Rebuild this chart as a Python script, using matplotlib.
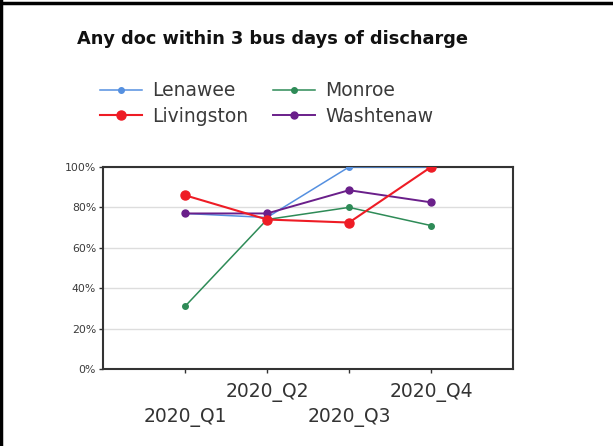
import matplotlib.pyplot as plt
from matplotlib.lines import Line2D

quarters = ["2020_Q1", "2020_Q2", "2020_Q3", "2020_Q4"]
lenawee = [77, 75, 100, 100]
livingston = [86, 74, 72.5, 100]
monroe = [31, 74, 80, 71]
washtenaw = [77, 77, 88.5, 82.5]
yticks = [0, 20, 40, 60, 80, 100]

plt.rcParams['font.family'] = 'DejaVu Sans'

fig = plt.figure(figsize=(6.13, 4.46), dpi=100)
ax = fig.add_axes([0.168, 0.1726, 0.669, 0.453])

x = [1, 2, 3, 4]
ax.plot(x, lenawee, color='#5590e0', lw=1.1, marker='o', ms=4, label='Lenawee', zorder=3)
ax.plot(x, monroe, color='#2e8b57', lw=1.1, marker='o', ms=4, label='Monroe', zorder=3)
ax.plot(x, washtenaw, color='#6a1f8a', lw=1.4, marker='o', ms=5, label='Washtenaw', zorder=4)
ax.plot(x, livingston, color='#ee1c25', lw=1.5, marker='o', ms=6.5, label='Livingston', zorder=5)

ax.set_xlim(0, 5)
ax.set_ylim(0, 100)
ax.set_yticks(yticks)
ax.set_yticklabels([f"{v}%" for v in yticks], fontsize=7.8, color='#3a3a3a')
ax.yaxis.grid(True, color='#dddddd', lw=1)
ax.set_axisbelow(True)
ax.tick_params(axis='y', length=3, width=1, color='#333333', pad=2)

ax.set_xticks(x)
ax.set_xticklabels(quarters, fontsize=13.5, color='#333333')
ax.tick_params(axis='x', length=3, width=1, color='#333333', pad=7)
for i, lab in enumerate(ax.get_xticklabels()):
    if i % 2 == 0:
        lab.set_y(-0.125)

for s in ax.spines.values():
    s.set_color('#333333')
    s.set_linewidth(1.5)

fig.text(0.445, 0.913, "Any doc within 3 bus days of discharge", ha='center', va='center',
         fontsize=12.8, fontweight='bold', color='#111111')

order = ['Lenawee', 'Livingston', 'Monroe', 'Washtenaw']
handles, labels = ax.get_legend_handles_labels()
hmap = dict(zip(labels, handles))
fig.legend([hmap[k] for k in order], order, ncol=2, loc='upper left',
           bbox_to_anchor=(0.163, 0.818), frameon=False, fontsize=13.5,
           handlelength=2.25, handletextpad=0.55, columnspacing=1.3,
           labelspacing=0.35, labelcolor='#3a3a3a', borderaxespad=0, borderpad=0)

# page border along the left and top edges
fig.add_artist(Line2D([0.002, 0.002], [0, 1], transform=fig.transFigure, color='black', lw=2.5))
fig.add_artist(Line2D([0, 1], [0.994, 0.994], transform=fig.transFigure, color='black', lw=2.5))

fig.savefig('out.png', dpi=100)
